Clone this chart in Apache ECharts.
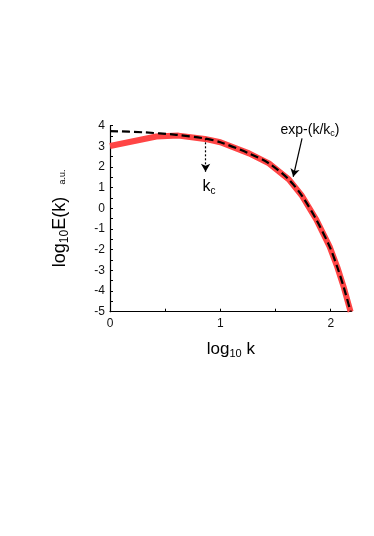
<!DOCTYPE html>
<html>
<head>
<meta charset="utf-8">
<script src="https://cdn.jsdelivr.net/npm/echarts@6/dist/echarts.min.js"></script>
<style>
  html, body { margin: 0; padding: 0; background: #fff; }
  #chart { width: 374px; height: 536px; }
</style>
</head>
<body>
<div id="chart"></div>
<script>
// ----------------------
// DATA
// ----------------------
const fitX = [0, 0.3, 0.6, 0.86, 1.0, 1.26, 1.44, 1.62, 1.74, 1.87, 1.99, 2.06, 2.12, 2.18];
const fitY = [3.74, 3.68, 3.56, 3.38, 3.2, 2.66, 2.18, 1.4, 0.6, -0.55, -1.85, -2.85, -3.85, -5.0];

const specX = [0, 0.42, 0.62, 0.86, 1.0, 1.26, 1.44, 1.62, 1.74, 1.87, 1.99, 2.06, 2.12, 2.18];
const specY = [3.02, 3.48, 3.52, 3.36, 3.2, 2.66, 2.18, 1.4, 0.6, -0.55, -1.85, -2.85, -3.85, -5.0];

const xTicks = [0, 1, 2];
const yTicks = [-5, -4, -3, -2, -1, 0, 1, 2, 3, 4];

// arrows: [from, to] in data units
const kcArrow = [[0.866, 3.39], [0.866, 1.77]];
const expArrow = [[1.74, 3.39], [1.66, 1.53]];

const FONT = "Liberation Sans, Arial, sans-serif";

const chart = echarts.init(document.getElementById("chart"));

const pairs = (xs, ys) => xs.map((x, i) => [x, ys[i]]);

chart.setOption({
  animation: false,
  grid: { left: 110, top: 125.7, right: 22.3, bottom: 224.3 },
  xAxis: {
    type: "value",
    min: 0,
    max: 2.19,
    interval: 0.5,
    splitLine: { show: false },
    axisLine: { onZero: false, lineStyle: { color: "#000", width: 1.2 } },
    axisTick: { inside: true, length: 3, lineStyle: { color: "#000" } },
    axisLabel: {
      color: "#111",
      fontFamily: FONT,
      fontSize: 12,
      margin: 6,
      showMaxLabel: false,
      formatter: (v) => (xTicks.includes(v) ? String(v) : ""),
    },
    name: "{a|log}{b|10}{a| k}",
    nameLocation: "middle",
    nameGap: 27,
    nameTextStyle: {
      rich: {
        a: { fontFamily: FONT, fontSize: 17, color: "#000", lineHeight: 20 },
        b: { fontFamily: FONT, fontSize: 11, color: "#000", padding: [10, 0, 0, 0] },
      },
    },
  },
  yAxis: {
    type: "value",
    min: -5,
    max: 4,
    interval: 0.5,
    splitLine: { show: false },
    axisLine: { onZero: false, lineStyle: { color: "#000", width: 1.2 } },
    axisTick: { inside: true, length: 3, lineStyle: { color: "#000" } },
    axisLabel: {
      color: "#111",
      fontFamily: FONT,
      fontSize: 12,
      margin: 5,
      formatter: (v) => (yTicks.includes(v) ? String(v) : ""),
    },
  },
  series: [
    {
      type: "line",
      data: pairs(specX, specY),
      symbol: "none",
      lineStyle: { color: "#ff4545", width: 6 },
      z: 2,
    },
    {
      type: "line",
      data: pairs(fitX, fitY),
      symbol: "none",
      smooth: 0.3,
      lineStyle: { color: "#000", width: 2.2, type: [8, 4] },
      z: 3,
      markLine: {
        silent: true,
        symbol: ["none", "arrow"],
        symbolSize: [7, 8],
        label: { show: false },
        data: [
          [
            { coord: kcArrow[0], lineStyle: { type: [2, 2], color: "#000", width: 1.2 } },
            { coord: kcArrow[1] },
          ],
          [
            { coord: expArrow[0], lineStyle: { type: "solid", color: "#000", width: 1.2 } },
            { coord: expArrow[1] },
          ],
        ],
      },
    },
  ],
  graphic: [
    {
      type: "text",
      x: 60,
      y: 232,
      rotation: Math.PI / 2,
      style: {
        text: "{a|log}{b|10}{a|E(k)}",
        align: "center",
        verticalAlign: "middle",
        rich: {
          a: { fontFamily: FONT, fontSize: 18, fill: "#000", lineHeight: 22 },
          b: { fontFamily: FONT, fontSize: 12, fill: "#000", padding: [10, 0, 0, 0] },
        },
      },
    },
    {
      type: "text",
      x: 63,
      y: 177,
      rotation: Math.PI / 2,
      style: {
        text: "a.u.",
        align: "center",
        verticalAlign: "middle",
        fontFamily: FONT,
        fontSize: 9,
        fill: "#000",
      },
    },
    {
      type: "text",
      x: 209,
      y: 187,
      style: {
        text: "{a|k}{b|c}",
        align: "center",
        verticalAlign: "middle",
        rich: {
          a: { fontFamily: FONT, fontSize: 16, fill: "#000", lineHeight: 18 },
          b: { fontFamily: FONT, fontSize: 10, fill: "#000", padding: [8, 0, 0, 0] },
        },
      },
    },
    {
      type: "text",
      x: 310,
      y: 130,
      style: {
        text: "{a|exp-(k/k}{b|c}{a|)}",
        align: "center",
        verticalAlign: "middle",
        rich: {
          a: { fontFamily: FONT, fontSize: 14, fill: "#000", lineHeight: 17 },
          b: { fontFamily: FONT, fontSize: 9, fill: "#000", padding: [7, 0, 0, 0] },
        },
      },
    },
  ],
});
</script>
</body>
</html>
